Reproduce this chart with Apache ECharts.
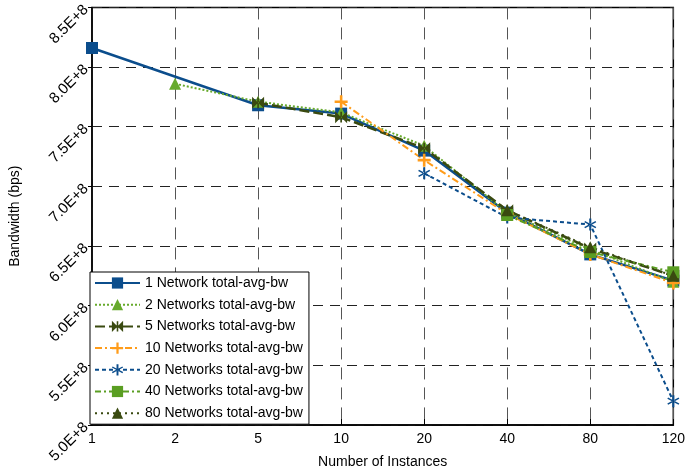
<!DOCTYPE html>
<html>
<head>
<meta charset="utf-8">
<script src="https://cdn.jsdelivr.net/npm/echarts@6/dist/echarts.min.js"></script>
<style>
html, body { margin: 0; padding: 0; background: #fff; }
#chart { width: 688px; height: 474px; }
</style>
</head>
<body>
<div id="chart"></div>
<script>
// categories (number of instances)
const instances = ['1', '2', '5', '10', '20', '40', '80', '120'];
const yTickLabels = ['5.0E+8', '5.5E+8', '6.0E+8', '6.5E+8', '7.0E+8', '7.5E+8', '8.0E+8', '8.5E+8'];

// bandwidth values (bps)
const net1 = [8.16e8, null, 7.68e8, 7.61e8, 7.30e8, 6.78e8, 6.43e8, 6.21e8];
const net2 = [null, 7.86e8, 7.71e8, 7.62e8, 7.34e8, 6.78e8, 6.47e8, 6.20e8];
const net5 = [null, null, 7.70e8, 7.58e8, 7.32e8, 6.80e8, 6.48e8, 6.25e8];
const net10 = [null, null, null, 7.71e8, 7.22e8, 6.77e8, 6.43e8, 6.19e8];
const net20 = [null, null, null, null, 7.11e8, 6.74e8, 6.68e8, 5.20e8];
const net40 = [null, null, null, null, null, 6.76e8, 6.45e8, 6.28e8];
const net80 = [null, null, null, null, null, 6.80e8, 6.49e8, 6.25e8];

const seriesNames = [
  '1 Network total-avg-bw',
  '2 Networks total-avg-bw',
  '5 Networks total-avg-bw',
  '10 Networks total-avg-bw',
  '20 Networks total-avg-bw',
  '40 Networks total-avg-bw',
  '80 Networks total-avg-bw'
];

const bowtie = 'path://M0,0L5,5L0,10Z M10,0L5,5L10,10Z M4.3,0.5H5.7V9.5H4.3Z';
const plus = 'path://M4,0H6V4H10V6H6V10H4V6H0V4H4Z';
const asterisk = 'path://M4.2,0H5.8V10H4.2Z M0.37,3.02L9.03,8.02L9.63,6.98L0.97,1.98Z M0.97,8.02L9.63,3.02L9.03,1.98L0.37,6.98Z';

function makeSeries(name, data, color, dash, width, symbol, size) {
  return {
    name: name,
    type: 'line',
    data: data,
    connectNulls: true,
    symbol: symbol,
    symbolSize: size,
    itemStyle: { color: color },
    lineStyle: { color: color, width: width, type: dash },
    emphasis: { disabled: true }
  };
}

const chart = echarts.init(document.getElementById('chart'));
const font = 'Liberation Sans, Arial, sans-serif';

chart.setOption({
  animation: false,
  textStyle: { fontFamily: font },
  grid: {
    left: 90, right: 13, top: 6, bottom: 48,
    show: true, borderColor: '#000', borderWidth: 1.5, backgroundColor: 'transparent'
  },
  legend: {
    orient: 'vertical',
    left: 90, top: 272,
    itemWidth: 45, itemHeight: 14, itemGap: 7.7,
    padding: [4, 6, 4, 4],
    backgroundColor: '#fff',
    borderColor: '#000', borderWidth: 1, borderRadius: 0,
    textStyle: { fontSize: 14, color: '#000', fontFamily: font },
    data: seriesNames
  },
  xAxis: {
    type: 'category',
    data: instances,
    boundaryGap: false,
    name: 'Number of Instances',
    nameLocation: 'middle',
    nameGap: 30,
    nameTextStyle: { fontSize: 14, color: '#000' },
    axisLine: { lineStyle: { color: '#000', width: 1.5 } },
    axisTick: { show: true, inside: true, length: 6, lineStyle: { color: '#000' } },
    axisLabel: { fontSize: 14, color: '#000', margin: 7 },
    splitLine: { show: true, lineStyle: { color: '#555', width: 1, type: [12, 8] } }
  },
  yAxis: {
    type: 'value',
    min: 5.0e8, max: 8.5e8, interval: 0.5e8,
    name: 'Bandwidth (bps)',
    nameLocation: 'middle',
    nameGap: 70,
    nameTextStyle: { fontSize: 14, color: '#000' },
    axisLine: { show: true, lineStyle: { color: '#000', width: 1.5 } },
    axisTick: { show: true, length: 4, lineStyle: { color: '#000' } },
    axisLabel: {
      fontSize: 15, color: '#000', rotate: 45, margin: 6,
      formatter: function (v) {
        const i = Math.round((v - 5.0e8) / 0.5e8);
        return yTickLabels[i];
      }
    },
    splitLine: { show: true, lineStyle: { color: '#222', width: 1, type: [10, 7] } }
  },
  series: [
    makeSeries(seriesNames[0], net1, '#0b4d8c', 'solid', 2.5, 'rect', 12),
    makeSeries(seriesNames[1], net2, '#67aa2c', [2, 2], 2, 'triangle', 12),
    makeSeries(seriesNames[2], net5, '#3a4a10', [10, 4], 2.5, bowtie, 12),
    makeSeries(seriesNames[3], net10, '#ff9c1a', [7, 3, 2, 3], 2, plus, 13),
    makeSeries(seriesNames[4], net20, '#0b4d8c', [4, 3], 2, asterisk, 12),
    makeSeries(seriesNames[5], net40, '#5a9e22', [6, 3, 2, 3], 2, 'rect', 12),
    makeSeries(seriesNames[6], net80, '#3a4a10', [2, 4], 2, 'triangle', 12)
  ]
});
</script>
</body>
</html>
